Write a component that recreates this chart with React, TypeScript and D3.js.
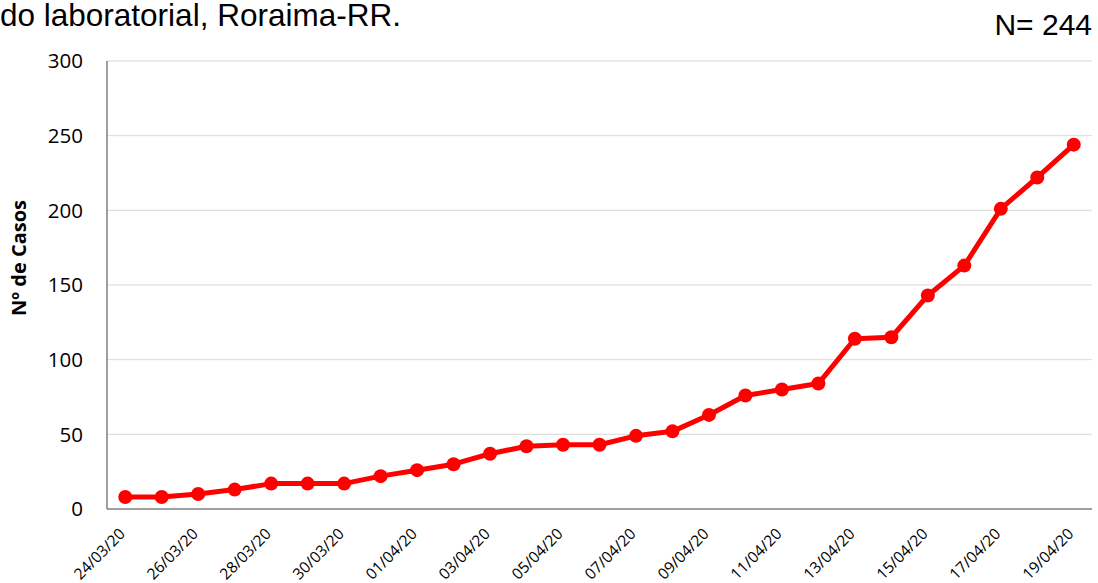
import { useEffect, useRef } from "react";
import * as d3 from "d3";

const dates = [
  "24/03/20", "25/03/20", "26/03/20", "27/03/20", "28/03/20", "29/03/20", "30/03/20",
  "31/03/20", "01/04/20", "02/04/20", "03/04/20", "04/04/20", "05/04/20", "06/04/20",
  "07/04/20", "08/04/20", "09/04/20", "10/04/20", "11/04/20", "12/04/20", "13/04/20",
  "14/04/20", "15/04/20", "16/04/20", "17/04/20", "18/04/20", "19/04/20",
];
const cases = [
  8, 8, 10, 13, 17, 17, 17, 22, 26, 30, 37, 42, 43, 43,
  49, 52, 63, 76, 80, 84, 114, 115, 143, 163, 201, 222, 244,
];
const yTicks = [0, 50, 100, 150, 200, 250, 300];

const App = () => {
  const ref = useRef<SVGSVGElement>(null);

  const width = 1098;
  const height = 583;
  const marginTop = 61;
  const marginRight = 6;
  const marginBottom = 74;
  const marginLeft = 107;

  useEffect(() => {
    const svg = d3.select(ref.current);
    svg.selectAll("*").remove();

    const x = d3
      .scaleBand()
      .domain(dates)
      .range([marginLeft, width - marginRight]);

    const y = d3
      .scaleLinear()
      .domain([0, 300])
      .range([height - marginBottom, marginTop]);

    const cx = (d: string) => (x(d) as number) + x.bandwidth() / 2;

    // gridlines
    svg
      .append("g")
      .selectAll("line")
      .data(yTicks.filter((t) => t > 0))
      .join("line")
      .attr("x1", marginLeft)
      .attr("x2", width - marginRight)
      .attr("y1", (d) => y(d))
      .attr("y2", (d) => y(d))
      .attr("stroke", "#d9d9d9")
      .attr("stroke-width", 1);

    // axis lines
    svg
      .append("line")
      .attr("x1", marginLeft)
      .attr("x2", marginLeft)
      .attr("y1", y(300))
      .attr("y2", y(0))
      .attr("stroke", "#7f7f7f")
      .attr("stroke-width", 1.5);
    svg
      .append("line")
      .attr("x1", marginLeft)
      .attr("x2", width - marginRight)
      .attr("y1", y(0))
      .attr("y2", y(0))
      .attr("stroke", "#7f7f7f")
      .attr("stroke-width", 1.5);

    // y tick labels
    svg
      .append("g")
      .selectAll("text")
      .data(yTicks)
      .join("text")
      .attr("x", 83)
      .attr("y", (d) => y(d))
      .attr("dy", "0.35em")
      .attr("text-anchor", "end")
      .attr("font-family", "Open Sans, sans-serif")
      .attr("font-size", 20.5)
      .attr("fill", "#000")
      .text((d) => d);

    // x tick labels, every other date
    svg
      .append("g")
      .selectAll("text")
      .data(dates.filter((_, i) => i % 2 === 0))
      .join("text")
      .attr(
        "transform",
        (d) => `translate(${cx(d) - 3},${y(0) + 22}) rotate(-45)`
      )
      .attr("text-anchor", "end")
      .attr("dy", "0.35em")
      .attr("font-family", "Open Sans, sans-serif")
      .attr("font-size", 15.5)
      .attr("fill", "#000")
      .text((d) => d);

    // y axis title
    svg
      .append("text")
      .attr("transform", `translate(26,${258}) rotate(-90)`)
      .attr("text-anchor", "middle")
      .attr("font-family", "Open Sans, sans-serif")
      .attr("font-weight", "bold")
      .attr("font-size", 20)
      .text("Nº de Casos");

    // line
    const line = d3
      .line<number>()
      .x((_, i) => cx(dates[i]))
      .y((d) => y(d));

    svg
      .append("path")
      .datum(cases)
      .attr("fill", "none")
      .attr("stroke", "#ff0000")
      .attr("stroke-width", 5)
      .attr("stroke-linejoin", "round")
      .attr("d", line);

    svg
      .append("g")
      .selectAll("circle")
      .data(cases)
      .join("circle")
      .attr("cx", (_, i) => cx(dates[i]))
      .attr("cy", (d) => y(d))
      .attr("r", 7)
      .attr("fill", "#ff0000");

    // title fragments
    svg
      .append("text")
      .attr("x", 0)
      .attr("y", 26)
      .attr("font-family", "Liberation Sans, Arial, sans-serif")
      .attr("font-size", 31.5)
      .attr("fill", "#000")
      .text("do laboratorial, Roraima-RR.");

    svg
      .append("text")
      .attr("x", 1092)
      .attr("y", 35)
      .attr("text-anchor", "end")
      .attr("font-family", "Liberation Sans, Arial, sans-serif")
      .attr("font-size", 30)
      .attr("fill", "#000")
      .text("N= 244");
  }, []);

  return (
    <svg
      ref={ref}
      width={width}
      height={height}
      style={{ position: "absolute", left: 0, top: 0, display: "block" }}
    />
  );
};

export default App;
